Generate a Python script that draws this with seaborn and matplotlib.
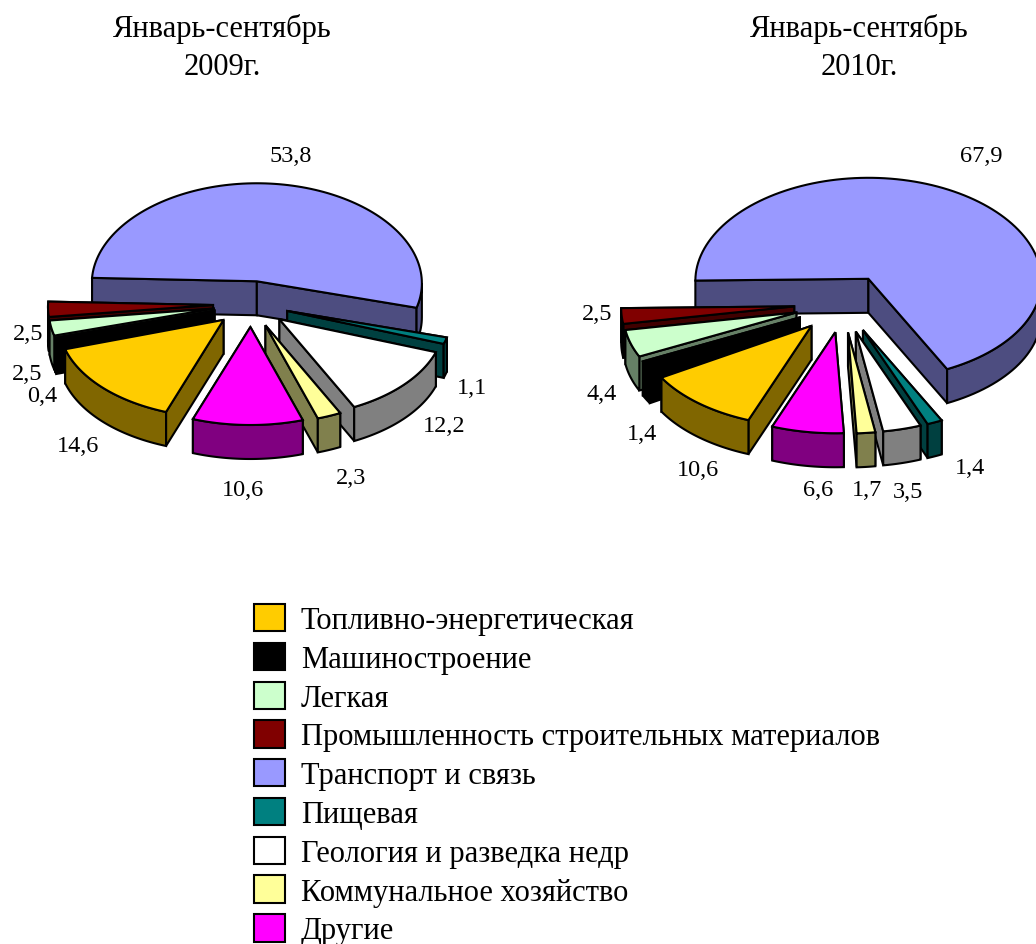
import numpy as np
import pandas as pd
import seaborn as sns
import matplotlib.pyplot as plt
from matplotlib.patches import Patch, Polygon

# данные
sectors = ["Топливно-энергетическая", "Машиностроение", "Легкая",
           "Промышленность строительных материалов", "Транспорт и связь", "Пищевая",
           "Геология и разведка недр", "Коммунальное хозяйство", "Другие"]
values_2009 = [14.6, 0.4, 2.5, 2.5, 53.8, 1.1, 12.2, 2.3, 10.6]
values_2010 = [10.6, 1.4, 4.4, 2.5, 67.9, 1.4, 3.5, 1.7, 6.6]
titles = ["Январь-сентябрь\n2009г.", "Январь-сентябрь\n2010г."]

colors = ["#FFCC00", "#000000", "#CCFFCC", "#800000", "#9999FF", "#008080", "#FFFFFF", "#FFFF99", "#FF00FF"]
side_colors = ["#806600", "#000000", "#668066", "#400000", "#4D4D80", "#004040", "#808080", "#80804D", "#800080"]

# где стоят подписи (пиксели картинки)
labels_xy_2009 = [(78, 447), (42, 397), (27, 375), (28, 335), (291, 157), (472, 389), (444, 427), (351, 479), (243, 490)]
labels_xy_2010 = [(698, 471), (642, 434), (602, 395), (597, 315), (981, 157), (970, 469), (908, 492), (867, 490), (818, 491)]

sns.set_theme(style="white")
plt.rcParams["font.family"] = ["Liberation Serif", "DejaVu Serif"]

df = pd.DataFrame({"sector": sectors, "y2009": values_2009, "y2010": values_2010,
                   "color": colors, "side": side_colors})

DEPTH = 34
PERSP = 0.02


def pie3d(ax, values, cx, cy, rx, ry, ex, ey, blue_start):
    start = blue_start + sum(values[:4]) * 3.6
    edges = start - np.cumsum([0] + list(values)) * 3.6
    parts = []
    for i in range(len(values)):
        a1, a2 = np.radians(edges[i]), np.radians(edges[i + 1])
        mid = (a1 + a2) / 2
        ax0 = cx + ex * np.cos(mid)
        ay0 = cy - ey * np.sin(mid)
        t = np.linspace(a1, a2, 120)
        # передний край чуть шире заднего
        xs = ax0 + rx * np.cos(t) * (1 - PERSP * np.sin(t))
        ys = ay0 - ry * np.sin(t)
        parts.append((ay0, i, ax0, t, xs, ys))
    # рисуем сзади вперед
    for ay0, i, ax0, t, xs, ys in sorted(parts, key=lambda p: p[0]):
        side = df["side"][i]
        cuts = sorted([(ys[0], xs[0]), (ys[-1], xs[-1])])
        for y1, x1 in cuts:
            ax.add_patch(Polygon([(ax0, ay0), (x1, y1), (x1, y1 + DEPTH), (ax0, ay0 + DEPTH)],
                                 fc=side, ec="black", lw=1.5))
        # видна только передняя стенка, куски идут отдельно
        front = np.flatnonzero(np.sin(t) <= 0)
        for run in np.split(front, np.flatnonzero(np.diff(front) > 1) + 1):
            if len(run) > 1:
                wx, wy = xs[run], ys[run]
                ax.add_patch(Polygon(np.r_[np.c_[wx, wy], np.c_[wx, wy + DEPTH][::-1]], fc=side, ec="black", lw=1.5))
        ax.add_patch(Polygon(np.r_[[(ax0, ay0)], np.c_[xs, ys]], fc=df["color"][i], ec="black", lw=1.5))


fig = plt.figure(figsize=(10.36, 9.45), dpi=100)
ax = fig.add_axes([0, 0, 1, 1])
ax.set_xlim(0, 1036)
ax.set_ylim(945, 0)
ax.axis("off")

pie3d(ax, df["y2009"].tolist(), 251, 305, 165, 98, 38, 23, 178)
pie3d(ax, df["y2010"].tolist(), 843, 304.6, 173, 101, 49, 29, 181)

for vals, xy in [(values_2009, labels_xy_2009), (values_2010, labels_xy_2010)]:
    for v, (x, y) in zip(vals, xy):
        ax.text(x, y, f"{v:.1f}".replace(".", ","), ha="center", va="center", fontsize=17.5, color="black")

ax.text(222, 48, titles[0], ha="center", va="center", fontsize=22, color="black", linespacing=1.43)
ax.text(859, 48, titles[1], ha="center", va="center", fontsize=22, color="black", linespacing=1.43)

handles = [Patch(fc=c, ec="black", lw=1.5) for c in colors]
ax.legend(handles, sectors, loc="upper left", bbox_to_anchor=(254 / 1036, 1 - 605 / 945), frameon=False,
          fontsize=22, handlelength=1.03, handleheight=1.0, handletextpad=0.5, labelspacing=0.25,
          borderpad=0, borderaxespad=0, labelcolor="black")

fig.savefig("out.png", dpi=100)
